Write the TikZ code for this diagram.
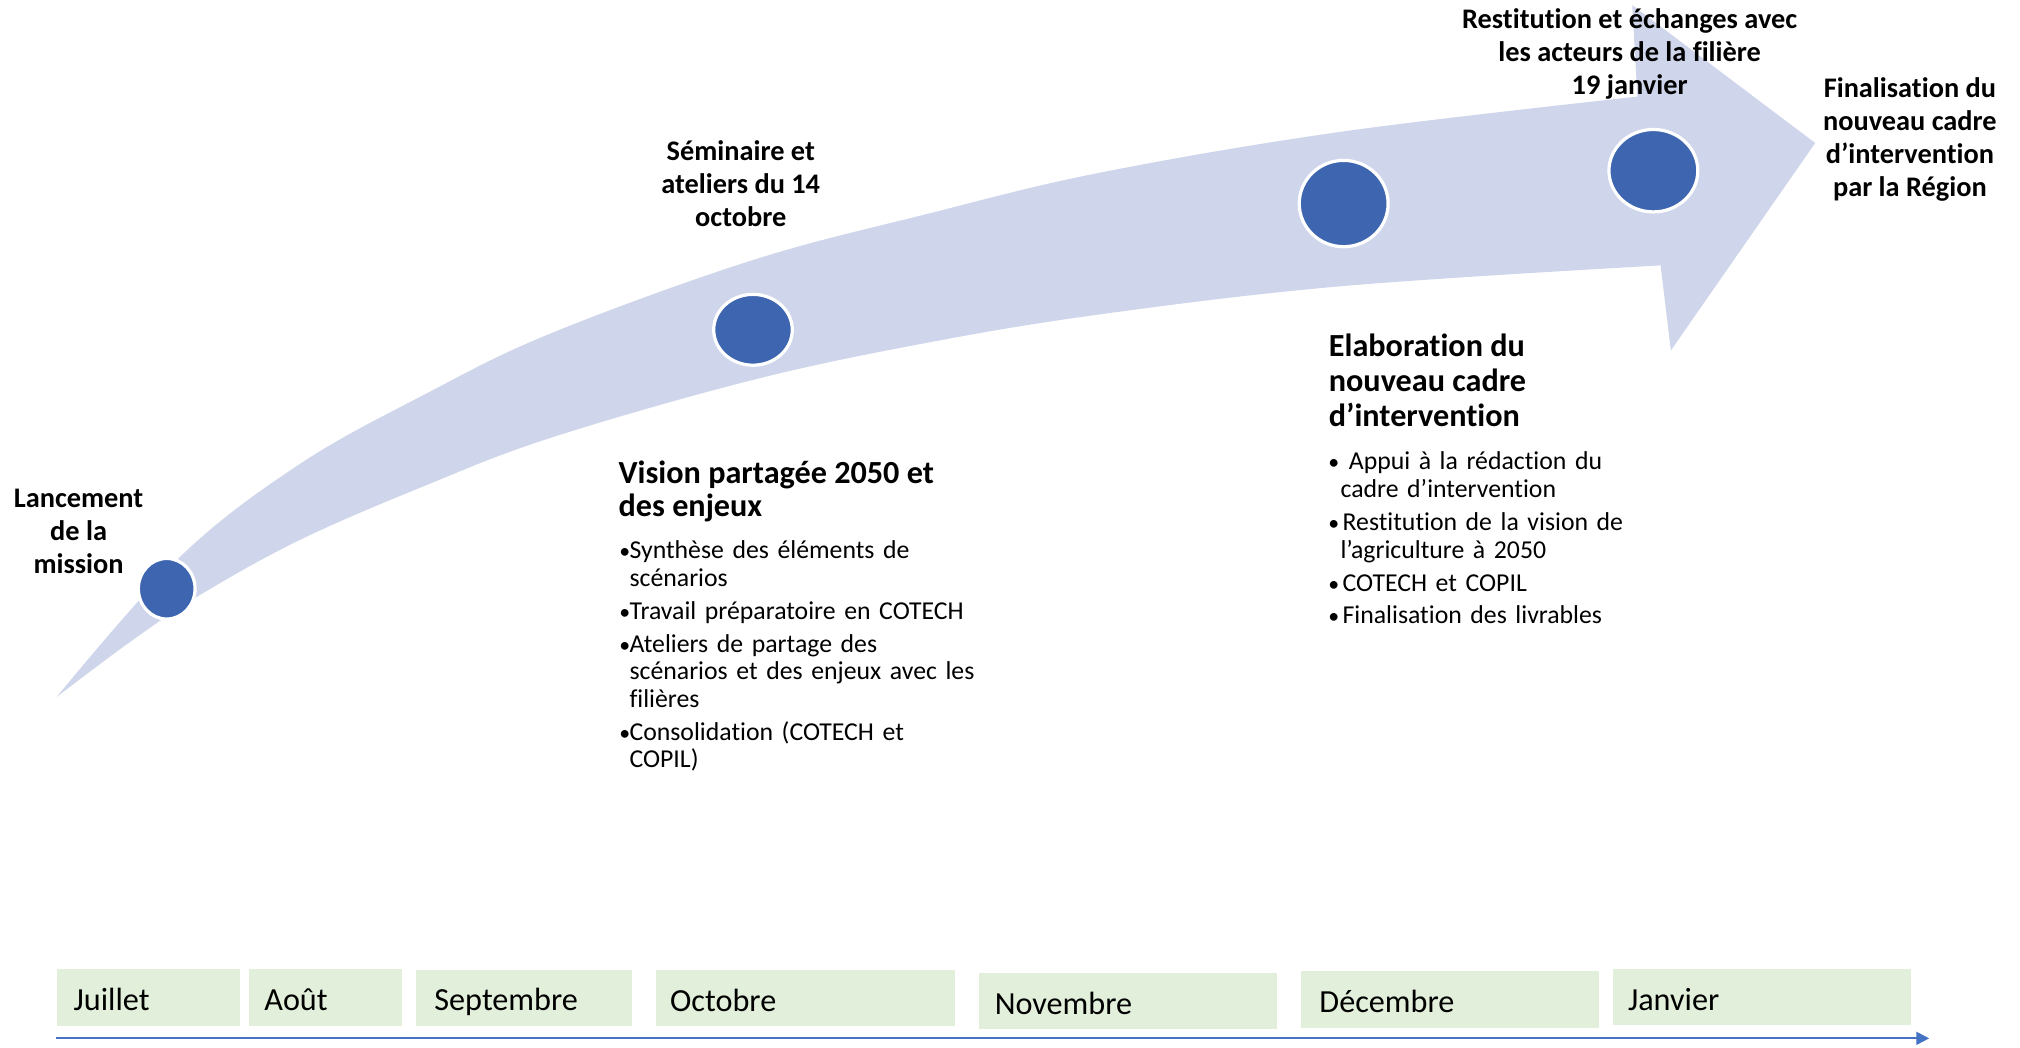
\documentclass[tikz,border=0pt]{standalone}
\usepackage{fontspec}
\setmainfont{Carlito}[Ligatures={NoCommon,NoDiscretionary,NoContextual}]
\usetikzlibrary{shapes.geometric,arrows.meta}
\definecolor{bandcol}{HTML}{CFD5EA}
\definecolor{dotcol}{HTML}{3E65B0}
\definecolor{monthcol}{HTML}{E2EFDA}
\definecolor{axiscol}{HTML}{4472C4}
\newcommand{\mstrut}{\rule[-3pt]{0pt}{27pt}}
\newcommand{\vb}{\makebox[7.2pt][l]{\kern-0.8pt\scalebox{0.85}{•}}}
\newcommand{\vc}{\hspace*{7.2pt}}
\newcommand{\eb}{\makebox[10.2pt][l]{\kern-0.8pt\scalebox{0.85}{•}}}
\newcommand{\ec}{\hspace*{8.6pt}}
\begin{document}
\begin{tikzpicture}[x=1pt,y=-1pt,
  milestone/.style={ellipse, fill=dotcol, draw=white, line width=2.5pt, inner sep=0pt},
  toplabel/.style={font=\fontsize{22}{25.7}\selectfont\bfseries, align=center, inner sep=0pt, anchor=base},
  heading/.style={font=\fontsize{25}{26}\selectfont\bfseries, align=left, inner sep=0pt, anchor=base west},
  blist/.style={font=\fontsize{20}{21.3}\selectfont, text width=300pt, align=left, inner sep=0pt, anchor=base west},
  monthbox/.style={fill=monthcol, inner ysep=0pt, minimum height=44pt, anchor=north west, align=left, font=\fontsize{25}{30}\selectfont}]
\useasboundingbox (0,0) rectangle (1568,813);

% band arrow
\fill[bandcol] plot[smooth, tension=0.6] coordinates {(44,541) (140,432) (233,360) (330,306) (427,259) (584,202) (720,166) (854,134) (1043,102) (1271,75)}
  -- (1267,4) -- (1409,111) -- (1297,272) -- (1289,206)
  -- plot[smooth, tension=0.6] coordinates {(1289,206) (1043,222) (854,244) (720,266) (584,295) (427,340) (330,377) (233,419) (155,462) (100,499) (44,541)} -- cycle;

% milestones
\node[milestone, minimum width=44pt, minimum height=47pt] (m1) at (129.4,457) {};
\node[milestone, minimum width=61pt, minimum height=55pt] (m2) at (584.5,256) {};
\node[milestone, minimum width=69pt, minimum height=67pt] (m3) at (1043,158) {};
\node[milestone, minimum width=69pt, minimum height=64pt] (m4) at (1283.4,132.5) {};

% labels (base anchor = baseline of last line)
\node[toplabel] (lanc) at (61,445) {Lancement\\de la\\mission};
\node[toplabel] (semi) at (575,176) {Séminaire et\\ateliers du 14\\octobre};
\node[toplabel] (resti) at (1265,73.7) {Restitution et échanges avec\\les acteurs de la filière\\19 janvier};
\node[toplabel] (final) at (1482.5,152.7) {Finalisation du\\nouveau cadre\\d’intervention\\par la Région};

\node[heading] (vhead) at (480,401) {Vision partagée 2050 et\\des enjeux};
\node[blist] (vlist) at (481.3,433.8) {%
\vb Synthèse des éléments de\\\vc scénarios\par\vspace{4.3pt}
\vb Travail préparatoire en COTECH\par\vspace{4.3pt}
\vb Ateliers de partage des\\\vc scénarios et des enjeux avec les\\\vc filières\par\vspace{4.3pt}
\vb Consolidation (COTECH et\\\vc COPIL)};

\node[heading, font=\fontsize{25}{27.4}\selectfont\bfseries] (ehead) at (1031.3,331.2) {Elaboration du\\nouveau cadre\\d’intervention};
\node[blist, font=\fontsize{20}{21.5}\selectfont] (elist) at (1031.8,364.8) {%
\makebox[15pt][l]{\kern-0.8pt\scalebox{0.85}{•}}Appui à la rédaction du\\\ec cadre d’intervention\par\vspace{4pt}
\eb Restitution de la vision de\\\ec l’agriculture à 2050\par\vspace{4pt}
\eb COTECH et COPIL\par\vspace{4pt}
\eb Finalisation des livrables};

% months
\node[monthbox, minimum width=142pt, text width=116pt, inner xsep=13pt] (mjul) at (44,752) {\mstrut Juillet};
\node[monthbox, minimum width=119pt, text width=95pt, inner xsep=12pt] (maou) at (193,752) {\mstrut Août};
\node[monthbox, minimum width=167pt, text width=139pt, inner xsep=14pt] (msep) at (323,752.4) {\mstrut Septembre};
\node[monthbox, minimum width=232pt, text width=210pt, inner xsep=11pt] (moct) at (509,752.4) {\mstrut Octobre};
\node[monthbox, minimum width=231pt, text width=207pt, inner xsep=12pt] (mnov) at (760,754.7) {\mstrut Novembre};
\node[monthbox, minimum width=231pt, text width=203pt, inner xsep=14pt] (mdec) at (1010,753.4) {\mstrut Décembre};
\node[monthbox, minimum width=231pt, text width=208pt, inner xsep=11.5pt] (mjan) at (1252,751.6) {\mstrut Janvier};

% time axis
\coordinate (axstart) at (43.6,806);
\coordinate (axend) at (1497.5,806);
\draw[axiscol, line width=1.5pt, -{Triangle[length=10pt,width=10pt]}] (axstart) -- (axend);
\end{tikzpicture}
\end{document}
